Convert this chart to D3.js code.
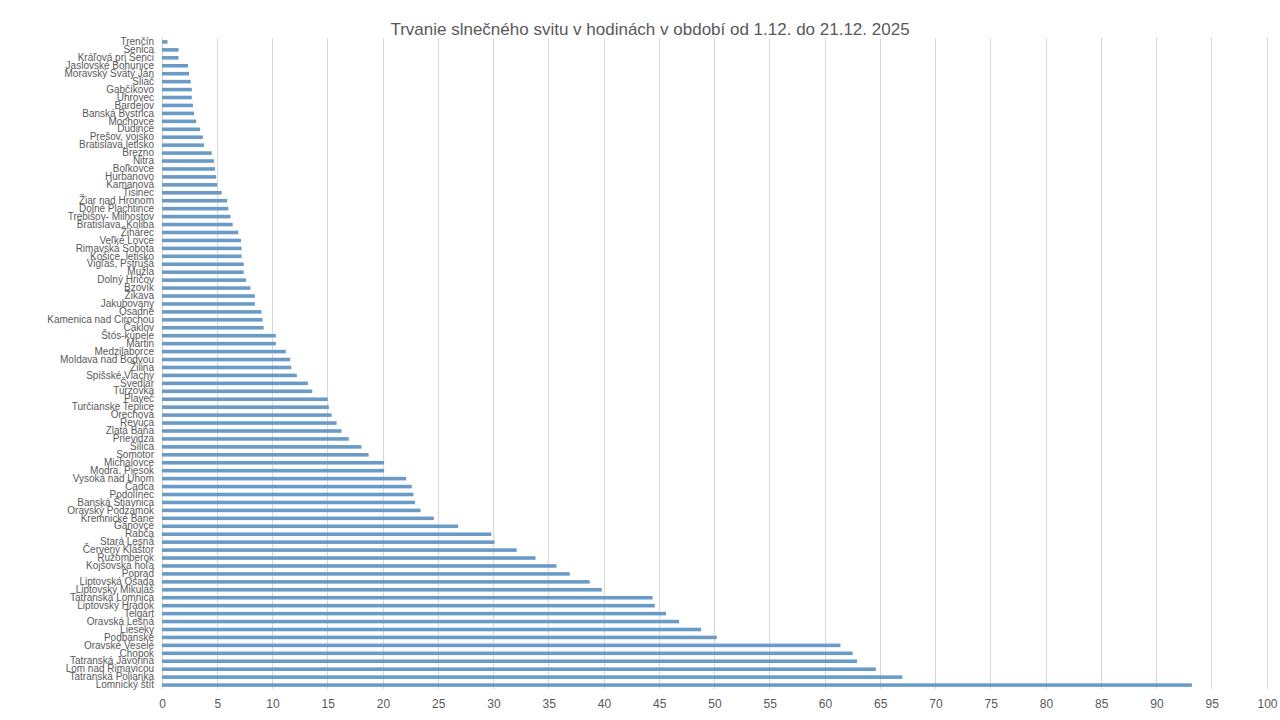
<!DOCTYPE html>
<html>
<head>
<meta charset="utf-8">
<script src="https://cdn.jsdelivr.net/npm/d3@7.9.0/dist/d3.min.js"></script>
<style>
  body { margin: 0; background: #fff; }
  svg { display: block; }
  .lbl { font-family: "Liberation Sans Narrow", "Arial Narrow", "Liberation Sans", sans-serif; fill: #595959; }
</style>
</head>
<body>
<svg id="chart" width="1280" height="720"></svg>
<script>
// stations, top to bottom as in the picture
const stations = [
  "Trenčín", "Senica", "Kráľová pri Senci", "Jaslovské Bohunice", "Moravský Svätý Ján",
  "Sliač", "Gabčíkovo", "Uhrovec", "Bardejov", "Banská Bystrica", "Mochovce", "Dudince",
  "Prešov, vojsko", "Bratislava,letisko", "Brezno", "Nitra", "Boľkovce", "Hurbanovo",
  "Kamanová", "Tisinec", "Žiar nad Hronom", "Dolné Plachtince", "Trebišov- Milhostov",
  "Bratislava, Koliba", "Žihárec", "Veľké Lovce", "Rimavská Sobota", "Košice, letisko",
  "Vigľaš, Pstruša", "Mužla", "Dolný Hričov", "Bzovík", "Žikava", "Jakubovany", "Osadné",
  "Kamenica nad Cirochou", "Čaklov", "Štós-kúpele", "Martin", "Medzilaborce",
  "Moldava nad Bodvou", "Žilina", "Spišské Vlachy", "Švedlár", "Turzovka", "Plaveč",
  "Turčianske Teplice", "Orechová", "Revúca", "Zlatá Baňa", "Prievidza", "Silica",
  "Somotor", "Michalovce", "Modra, Piesok", "Vysoká nad Uhom", "Čadca", "Podolínec",
  "Banská Štiavnica", "Oravský Podzámok", "Kremnické Bane", "Gánovce", "Rabča",
  "Stará Lesná", "Červený Kláštor", "Ružomberok", "Kojšovská hoľa", "Poprad",
  "Liptovská Osada", "Liptovský Mikuláš", "Tatranská Lomnica", "Liptovský Hrádok",
  "Telgárt", "Oravská Lesná", "Lieseky", "Podbanské", "Oravské Veselé", "Chopok",
  "Tatranská Javorina", "Lom nad Rimavicou", "Tatranská Polianka", "Lomnický štít"
];

// sunshine hours, same order
const hours = [
  0.5, 1.5, 1.5, 2.35, 2.45, 2.6, 2.7, 2.7, 2.8, 2.9, 3.1, 3.45,
  3.7, 3.8, 4.5, 4.7, 4.8, 4.9, 5.0, 5.4, 5.9, 6.0, 6.2,
  6.4, 6.9, 7.15, 7.2, 7.2, 7.4, 7.4, 7.6, 8.0, 8.4, 8.4, 9.0,
  9.1, 9.2, 10.3, 10.3, 11.2, 11.6, 11.7, 12.2, 13.2, 13.6, 15.0,
  15.1, 15.35, 15.8, 16.25, 16.9, 18.05, 18.7, 20.1, 20.1, 22.1, 22.6, 22.75,
  22.9, 23.4, 24.6, 26.8, 29.8, 30.1, 32.1, 33.8, 35.7, 36.9,
  38.7, 39.8, 44.4, 44.6, 45.6, 46.8, 48.8, 50.2, 61.4, 62.5,
  62.9, 64.6, 67.0, 93.2
];

const xTicks = d3.range(0, 101, 5);
const chartTitle = "Trvanie slnečného svitu v hodinách v období od 1.12. do 21.12. 2025";

const width = 1280, height = 720;
const margin = { top: 38, right: 13, bottom: 31, left: 162 };

const svg = d3.select("#chart");

const x = d3.scaleLinear().domain([0, 100]).range([margin.left, width - margin.right]);
const y = d3.scaleBand().domain(stations).range([margin.top, height - margin.bottom]).paddingInner(0.55).paddingOuter(0.27);

// gridlines
svg.append("g")
  .selectAll("line")
  .data(xTicks)
  .join("line")
  .attr("x1", d => x(d)).attr("x2", d => x(d))
  .attr("y1", margin.top).attr("y2", height - margin.bottom)
  .attr("stroke", "#d9d9d9").attr("stroke-width", 1)
  .attr("shape-rendering", "crispEdges");

// bars
svg.append("g")
  .selectAll("rect")
  .data(stations)
  .join("rect")
  .attr("x", x(0))
  .attr("y", d => y(d))
  .attr("width", (d, i) => x(hours[i]) - x(0))
  .attr("height", y.bandwidth())
  .attr("fill", "#6a9bc7");

// category labels (they crowd each other in the original too)
const yAxis = svg.append("g")
  .attr("transform", `translate(${x(0)},0)`)
  .call(d3.axisLeft(y).tickSize(0).tickPadding(8));
yAxis.select(".domain").remove();
yAxis.selectAll("text")
  .attr("class", "lbl")
  .attr("font-size", 10)
  .attr("fill", "#595959");

// x axis labels
const xAxis = svg.append("g")
  .attr("transform", `translate(0,${height - margin.bottom})`)
  .call(d3.axisBottom(x).tickValues(xTicks).tickSize(0).tickPadding(10));
xAxis.select(".domain").remove();
xAxis.selectAll("text")
  .attr("font-family", "Liberation Sans Narrow, Liberation Sans, sans-serif")
  .attr("font-size", 12)
  .attr("fill", "#595959");

// title
svg.append("text")
  .attr("x", 650)
  .attr("y", 35)
  .attr("text-anchor", "middle")
  .attr("font-family", "Liberation Sans Narrow, Liberation Sans, sans-serif")
  .attr("font-size", 17)
  .attr("fill", "#595959")
  .text(chartTitle);
</script>
</body>
</html>
